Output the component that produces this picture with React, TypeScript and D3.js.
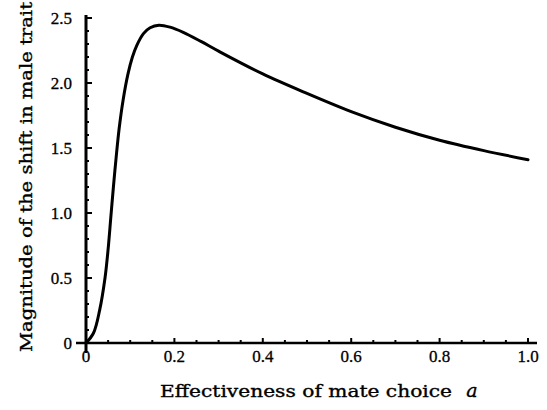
import React from "react";
import * as d3 from "d3";

const aValues = [0, 0.017, 0.031, 0.043, 0.05, 0.056, 0.062, 0.068, 0.075, 0.084, 0.095, 0.105, 0.115, 0.13, 0.145, 0.165, 0.19, 0.22, 0.26, 0.3, 0.4, 0.5, 0.6, 0.7, 0.8, 0.9, 1.0];
const shiftValues = [0, 0.077, 0.255, 0.5, 0.72, 0.96, 1.2, 1.42, 1.65, 1.87, 2.07, 2.2, 2.29, 2.38, 2.425, 2.445, 2.43, 2.39, 2.32, 2.245, 2.07, 1.92, 1.78, 1.66, 1.56, 1.48, 1.41];
const xTickLabels = ["0", "0.2", "0.4", "0.6", "0.8", "1.0"];
const xTickValues = [0, 0.2, 0.4, 0.6, 0.8, 1.0];
const yTickLabels = ["0", "0.5", "1.0", "1.5", "2.0", "2.5"];
const yTickValues = [0, 0.5, 1.0, 1.5, 2.0, 2.5];
const xTitle = "Effectiveness of mate choice";
const xTitleVar = "a";
const yTitle = "Magnitude of the shift in male trait";

export default function App() {
  const x = d3.scaleLinear().domain([0, 1]).range([86, 528]);
  const y = d3.scaleLinear().domain([0, 2.5]).range([343, 18]);
  const data = aValues.map((a, i) => [a, shiftValues[i]] as [number, number]);
  const line = d3
    .line<[number, number]>()
    .x((d) => x(d[0]))
    .y((d) => y(d[1]))
    .curve(d3.curveCatmullRom.alpha(0.5));

  const xMinor = d3.range(0, 21).map((i) => i * 0.05);
  const yMinor = d3.range(0, 26).map((i) => i * 0.1);
  const numFont = "'Liberation Serif', 'Times New Roman', serif";
  const titleFont = "'DejaVu Serif', 'Liberation Serif', serif";

  return (
    <svg width={547} height={410} style={{ position: "absolute", left: 0, top: 0, background: "#fff" }}>
      <rect x={0} y={0} width={547} height={410} fill="#fff" />
      {/* axes */}
      <line x1={76} x2={537} y1={y(0)} y2={y(0)} stroke="#000" strokeWidth={2.5} />
      <line x1={x(0)} x2={x(0)} y1={353} y2={15} stroke="#000" strokeWidth={3} />
      {/* x ticks */}
      {xMinor.map((v, i) => (
        <line key={"xm" + i} x1={x(v)} x2={x(v)} y1={y(0)} y2={y(0) - (i % 4 === 0 ? 5 : 3)} stroke="#000" strokeWidth={2} />
      ))}
      {/* y ticks */}
      {yMinor.map((v, i) => (
        <line key={"ym" + i} x1={x(0)} x2={x(0) + (i % 5 === 0 ? 6 : 3)} y1={y(v)} y2={y(v)} stroke="#000" strokeWidth={2} />
      ))}
      {xTickValues.map((v, i) => (
        <text key={"xt" + i} x={x(v)} y={362} textAnchor="middle" fontFamily={numFont} fontSize={17} fill="#000" stroke="#000" strokeWidth={0.3}>
          {xTickLabels[i]}
        </text>
      ))}
      {yTickValues.map((v, i) => (
        <text key={"yt" + i} x={72} y={y(v) + 6} textAnchor="end" fontFamily={numFont} fontSize={17} fill="#000" stroke="#000" strokeWidth={0.3}>
          {yTickLabels[i]}
        </text>
      ))}
      {/* curve */}
      <path d={line(data) || ""} fill="none" stroke="#000" strokeWidth={3} strokeLinejoin="round" strokeLinecap="round" />
      {/* titles */}
      <text x={160} y={397} fontFamily={titleFont} fontSize={17} fill="#000" stroke="#000" strokeWidth={0.35} textLength={292} lengthAdjust="spacingAndGlyphs">
        {xTitle}
      </text>
      <text x={472} y={397} textAnchor="middle" fontFamily={titleFont} fontStyle="italic" fontSize={19} fill="#000" stroke="#000" strokeWidth={0.35}>
        {xTitleVar}
      </text>
      <text
        transform={`translate(32, ${352}) rotate(-90)`}
        x={0}
        y={0}
        fontFamily={titleFont}
        fontSize={17}
        fill="#000"
        stroke="#000"
        strokeWidth={0.35}
        textLength={350}
        lengthAdjust="spacingAndGlyphs"
      >
        {yTitle}
      </text>
    </svg>
  );
}
